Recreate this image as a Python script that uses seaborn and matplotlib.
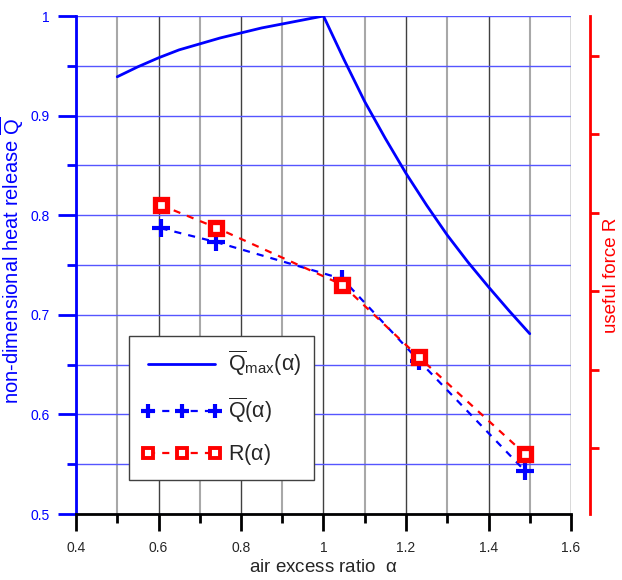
import matplotlib
matplotlib.use('Agg')
import matplotlib.pyplot as plt
import seaborn as sns
from matplotlib.ticker import MultipleLocator, FuncFormatter

# upper bound curve Qmax(alpha)
alpha_max = [0.50, 0.55, 0.60, 0.65, 0.70, 0.75, 0.80, 0.85, 0.90, 0.95, 1.00,
             1.05, 1.10, 1.15, 1.20, 1.25, 1.30, 1.35, 1.40, 1.45, 1.50]
q_max = [0.939, 0.949, 0.958, 0.966, 0.972, 0.978, 0.983, 0.988, 0.992, 0.996, 1.000,
         0.956, 0.914, 0.877, 0.842, 0.810, 0.780, 0.753, 0.728, 0.704, 0.681]

# measured points
alpha_pts = [0.605, 0.740, 1.046, 1.231, 1.489]
q_pts = [0.787, 0.773, 0.736, 0.654, 0.543]
r_pts = [4.10, 3.81, 3.08, 2.16, 0.92]   # right axis, arbitrary units (no labels)
r_ticks = [1, 2, 3, 4, 5, 6]

BLUE = '#0000ff'
RED = '#ff0000'

sns.set_style('white')
plt.rcParams['font.family'] = ['Liberation Sans', 'DejaVu Sans']
plt.rcParams['mathtext.fontset'] = 'custom'
plt.rcParams['mathtext.rm'] = 'Liberation Sans'
plt.rcParams['mathtext.it'] = 'Liberation Sans'
plt.rcParams['mathtext.bf'] = 'Liberation Sans:bold'

fig = plt.figure(figsize=(6.22, 5.8), dpi=100)
ax = fig.add_axes([76 / 622, 1 - 514 / 580, 495 / 622, 498 / 580])

ax.set_xlim(0.4, 1.6)
ax.set_ylim(0.5, 1.0)
ax.xaxis.set_major_locator(MultipleLocator(0.2))
ax.xaxis.set_minor_locator(MultipleLocator(0.1))
ax.yaxis.set_major_locator(MultipleLocator(0.1))
ax.yaxis.set_minor_locator(MultipleLocator(0.05))
fmt = FuncFormatter(lambda v, p: '%g' % round(v, 3))
ax.xaxis.set_major_formatter(fmt)
ax.yaxis.set_major_formatter(fmt)

ax.grid(which='major', axis='x', color='#404040', lw=1.0)
ax.grid(which='minor', axis='x', color='#a8a8a8', lw=1.5)
ax.grid(which='both', axis='y', color='#5555ff', lw=1.0)
ax.set_axisbelow(True)

for s in ['top', 'right']:
    ax.spines[s].set_visible(False)
ax.spines['left'].set_color(BLUE)
ax.spines['left'].set_linewidth(2)
ax.spines['bottom'].set_color('black')
ax.spines['bottom'].set_linewidth(2)

ax.tick_params(axis='y', which='major', direction='out', length=13, width=2,
               color=BLUE, labelcolor=BLUE, labelsize=10, pad=6, left=True)
ax.tick_params(axis='y', which='minor', direction='out', length=6.5, width=2,
               color=BLUE, left=True)
ax.tick_params(axis='x', which='major', direction='out', length=12.5, width=2,
               color='black', labelsize=10, pad=7, bottom=True)
ax.tick_params(axis='x', which='minor', direction='out', length=6.5, width=2,
               color='black', bottom=True)

sns.lineplot(x=alpha_max, y=q_max, ax=ax, color=BLUE, lw=2, sort=False,
             label=r'$\overline{\mathrm{Q}}_{\mathrm{max}}(\alpha)$', legend=False)
sns.lineplot(x=alpha_pts, y=q_pts, ax=ax, color=BLUE, lw=1.6,
             linestyle=(0, (3.2, 3.2)), marker='+', markersize=12.5,
             markeredgewidth=3, markeredgecolor=BLUE,
             label=r'$\overline{\mathrm{Q}}(\alpha)$', legend=False)

ax.set_xlabel(r'air excess ratio  $\alpha$', fontsize=13.5)
ax.set_ylabel(r'non-dimensional heat release $\overline{\mathrm{Q}}$', fontsize=14.5, color=BLUE)
ax.xaxis.set_label_coords(0.5, -0.09)
ax.yaxis.set_label_coords(-0.1, 0.51)

ax2 = ax.twinx()
ax2.set_ylim(0.158, 6.51)
ax2.set_yticks(r_ticks)
ax2.set_yticklabels([])
for s in ['top', 'left', 'bottom']:
    ax2.spines[s].set_visible(False)
ax2.spines['right'].set_position(('outward', 13.7))
ax2.spines['right'].set_color(RED)
ax2.spines['right'].set_linewidth(2)
ax2.tick_params(axis='y', direction='out', length=6.5, width=2, color=RED, right=True)

sns.lineplot(x=alpha_pts, y=r_pts, ax=ax2, color=RED, lw=1.6,
             linestyle=(0, (3.2, 3.2)), marker='s', markersize=8.8,
             markeredgewidth=3.8, markerfacecolor='white', markeredgecolor=RED,
             label=r'R$(\alpha)$', legend=False)
ax2.set_ylabel('useful force R', fontsize=13.5, color=RED)
ax2.yaxis.set_label_coords(1.064, 0.48)

h1, l1 = ax.get_legend_handles_labels()
h2, l2 = ax2.get_legend_handles_labels()
leg = ax2.legend(h1 + h2, l1 + l2, loc='upper left', bbox_to_anchor=(0.107, 0.357),
                 borderaxespad=0, fontsize=15.5, numpoints=3, handlelength=3.7,
                 handletextpad=0.3, labelspacing=0.8, borderpad=0.6,
                 fancybox=False, framealpha=1, edgecolor='#404040')
leg.get_frame().set_linewidth(1.0)
# legend symbols are drawn a bit smaller than the data markers
for hd in leg.legend_handles:
    if hd.get_marker() == 's':
        hd.set_markersize(6.5)
        hd.set_markeredgewidth(2.8)
    elif hd.get_marker() == '+':
        hd.set_markersize(10)
        hd.set_markeredgewidth(3)

fig.savefig('out.png', dpi=100)
